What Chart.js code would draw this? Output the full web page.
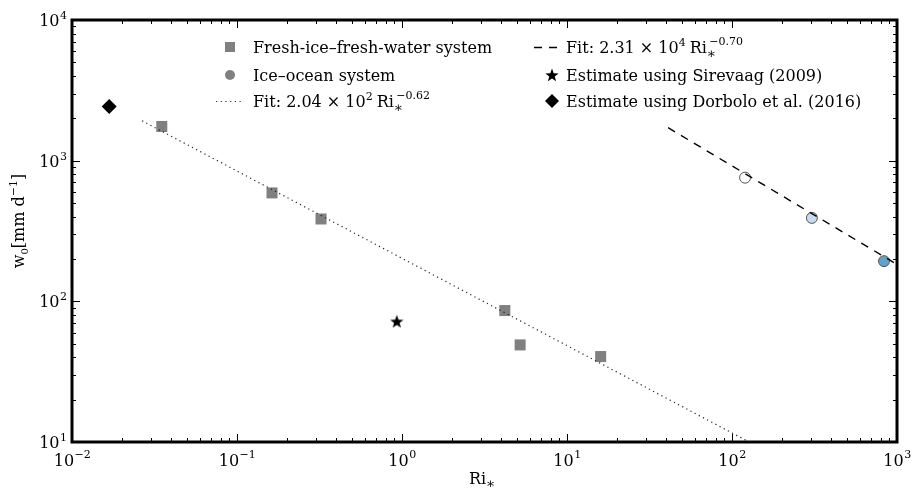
<!DOCTYPE html>
<html>
<head>
<meta charset="utf-8">
<script src="https://cdn.jsdelivr.net/npm/chart.js@4"></script>
<style>
  html, body { margin: 0; padding: 0; background: #fff; }
  #wrap { width: 915px; height: 492px; }
</style>
</head>
<body>
<div id="wrap"><canvas id="chart" width="915" height="492"></canvas></div>
<script>
// data
const freshRi = [0.035, 0.163, 0.323, 4.2, 5.2, 16];
const freshW = [1750, 590, 385, 86, 49, 40.5];

const oceanRi = [120, 305, 834];
const oceanW = [757, 392, 193];
const oceanColors = ["#ffffff", "#c6dbef", "#5fa3cc"];

const sirevaagRi = [0.93];
const sirevaagW = [72];

const dorboloRi = [0.0168];
const dorboloW = [2430];

// fit lines (end points)
const fitFreshRi = [0.0266, 125];
const fitFreshW = [1920, 10.1];
const fitOceanRi = [41, 1000];
const fitOceanW = [1715, 183];

const xMajor = [0.01, 0.1, 1, 10, 100, 1000];
const xExp = ["\u22122", "\u22121", "0", "1", "2", "3"];
const yMajor = [10, 100, 1000, 10000];
const yExp = ["1", "2", "3", "4"];

const serif = "'DejaVu Serif', 'Liberation Serif', serif";
const big = 16, small = 11;
const pts = (xs, ys) => xs.map((x, i) => ({ x: x, y: ys[i] }));

// filled star marker
const starImg = document.createElement("canvas");
starImg.width = 14; starImg.height = 14;
(function () {
  const c = starImg.getContext("2d");
  c.fillStyle = "#000";
  c.beginPath();
  for (let i = 0; i < 10; i++) {
    const r = i % 2 == 0 ? 7 : 2.9;
    const a = -Math.PI / 2 + i * Math.PI / 5;
    const px = 7 + r * Math.cos(a), py = 7.6 + r * Math.sin(a);
    i == 0 ? c.moveTo(px, py) : c.lineTo(px, py);
  }
  c.closePath();
  c.fill();
})();

function minorVals(lo, hi) {
  let out = [];
  for (let d = lo; d < hi; d *= 10) {
    for (let k = 2; k <= 9; k++) out.push(d * k);
  }
  return out;
}

const framePlugin = {
  id: "frame",
  afterDatasetsDraw(chart) {
    const ctx = chart.ctx;
    const a = chart.chartArea;
    const xs = chart.scales.x, ys = chart.scales.y;
    ctx.save();
    ctx.strokeStyle = "#000";
    // ticks on all four sides, pointing inward
    ctx.lineWidth = 1;
    const drawX = (vals, len) => {
      vals.forEach((v) => {
        const px = Math.round(xs.getPixelForValue(v)) + 0.5;
        ctx.beginPath();
        ctx.moveTo(px, a.bottom); ctx.lineTo(px, a.bottom - len);
        ctx.moveTo(px, a.top); ctx.lineTo(px, a.top + len);
        ctx.stroke();
      });
    };
    const drawY = (vals, len) => {
      vals.forEach((v) => {
        const py = Math.round(ys.getPixelForValue(v)) + 0.5;
        ctx.beginPath();
        ctx.moveTo(a.left, py); ctx.lineTo(a.left + len, py);
        ctx.moveTo(a.right, py); ctx.lineTo(a.right - len, py);
        ctx.stroke();
      });
    };
    drawX(xMajor, 8); drawX(minorVals(0.01, 1000), 4);
    drawY(yMajor, 8); drawY(minorVals(10, 10000), 4);
    ctx.lineWidth = 3;
    ctx.strokeRect(a.left, a.top, a.right - a.left, a.bottom - a.top);

    // tick labels
    ctx.fillStyle = "#000";
    ctx.textBaseline = "alphabetic";
    xMajor.forEach((v, i) => {
      const px = xs.getPixelForValue(v);
      ctx.font = big + "px " + serif;
      const w1 = ctx.measureText("10").width;
      ctx.font = small + "px " + serif;
      const w2 = ctx.measureText(xExp[i]).width;
      const x0 = px - (w1 + w2) / 2;
      ctx.textAlign = "left";
      ctx.font = big + "px " + serif;
      ctx.fillText("10", x0, a.bottom + 24);
      ctx.font = small + "px " + serif;
      ctx.fillText(xExp[i], x0 + w1 + 0.5, a.bottom + 16);
    });
    yMajor.forEach((v, i) => {
      const py = ys.getPixelForValue(v);
      ctx.font = small + "px " + serif;
      const w2 = ctx.measureText(yExp[i]).width;
      ctx.textAlign = "right";
      ctx.fillText(yExp[i], a.left - 5, py - 1);
      ctx.font = big + "px " + serif;
      ctx.fillText("10", a.left - 5.5 - w2, py + 6);
    });

    // axis titles
    ctx.textAlign = "left";
    ctx.font = big + "px " + serif;
    const wRi = ctx.measureText("Ri").width;
    const xc = (a.left + a.right) / 2 - 4;
    ctx.fillText("Ri", xc - wRi / 2 - 3, a.bottom + 42);
    ctx.font = "14px " + serif;
    ctx.fillText("\u2217", xc + wRi / 2 - 3, a.bottom + 46);

    ctx.translate(24, (a.top + a.bottom) / 2 - 10);
    ctx.rotate(-Math.PI / 2);
    ctx.textAlign = "left";
    const parts = [["w", big, 0], ["0", small - 1, 4], ["[mm d", big, 0], ["\u22121", small, -7], ["]", big, 0]];
    let total = 0;
    parts.forEach((p) => { ctx.font = p[1] + "px " + serif; total += ctx.measureText(p[0]).width; });
    let cx = -total / 2;
    parts.forEach((p) => {
      ctx.font = p[1] + "px " + serif;
      ctx.fillText(p[0], cx, p[2]);
      cx += ctx.measureText(p[0]).width;
    });
    ctx.restore();
  },
};

const legendPlugin = {
  id: "customLegend",
  afterDraw(chart) {
    const ctx = chart.ctx;
    ctx.save();
    ctx.fillStyle = "#000";
    ctx.textAlign = "left";
    ctx.textBaseline = "alphabetic";
    const rows = [47, 75, 101];
    const lx = 253, rx = 566;

    // left column markers
    ctx.fillStyle = "#808080";
    ctx.fillRect(225, rows[0] - 5, 10, 10);
    ctx.beginPath(); ctx.arc(230, rows[1], 5, 0, 2 * Math.PI); ctx.fill();
    ctx.strokeStyle = "#333";
    ctx.lineWidth = 1.2;
    ctx.setLineDash([1.2, 3.5]);
    ctx.beginPath(); ctx.moveTo(216, rows[2] + 0.5); ctx.lineTo(244, rows[2] + 0.5); ctx.stroke();

    // right column markers
    ctx.strokeStyle = "#000";
    ctx.lineWidth = 1.4;
    ctx.setLineDash([8, 7]);
    ctx.beginPath(); ctx.moveTo(534, rows[0] + 0.5); ctx.lineTo(560, rows[0] + 0.5); ctx.stroke();
    ctx.setLineDash([]);
    ctx.drawImage(starImg, 552 - 7, rows[1] - 7);
    ctx.fillStyle = "#000";
    ctx.beginPath();
    ctx.moveTo(552, rows[2] - 7); ctx.lineTo(559, rows[2]); ctx.lineTo(552, rows[2] + 7); ctx.lineTo(545, rows[2]);
    ctx.closePath(); ctx.fill();

    const text = (x, y, segs) => {
      let cx = x;
      segs.forEach((s) => {
        ctx.font = s[1] + "px " + serif;
        ctx.fillText(s[0], cx, y + s[2]);
        cx += ctx.measureText(s[0]).width + (s[3] || 0);
      });
    };
    ctx.fillStyle = "#000";
    text(lx, rows[0] + 6, [["Fresh-ice\u2013fresh-water system", big, 0]]);
    text(lx, rows[1] + 6, [["Ice\u2013ocean system", big, 0]]);
    text(lx, rows[2] + 6, [["Fit: 2.04 \u00d7 10", big, 0], ["2", small, -7, 4], ["Ri", big, 0], ["\u2217", 14, 5, -7], ["\u22120.62", small, -8]]);
    text(rx, rows[0] + 6, [["Fit: 2.31 \u00d7 10", big, 0], ["4", small, -7, 4], ["Ri", big, 0], ["\u2217", 14, 5, -7], ["\u22120.70", small, -8]]);
    text(rx, rows[1] + 6, [["Estimate using Sirevaag (2009)", big, 0]]);
    text(rx, rows[2] + 6, [["Estimate using Dorbolo et al. (2016)", big, 0]]);
    ctx.restore();
  },
};

new Chart(document.getElementById("chart"), {
  type: "scatter",
  data: {
    datasets: [
      {
        label: "Fit fresh",
        data: pts(fitFreshRi, fitFreshW),
        showLine: true,
        borderColor: "#222",
        borderWidth: 1.2,
        borderDash: [1.2, 3.5],
        pointRadius: 0,
        order: 0,
      },
      {
        label: "Fit ocean",
        data: pts(fitOceanRi, fitOceanW),
        showLine: true,
        borderColor: "#000",
        borderWidth: 1.4,
        borderDash: [8, 7],
        pointRadius: 0,
        order: 0,
      },
      {
        label: "Fresh-ice–fresh-water system",
        data: pts(freshRi, freshW),
        pointStyle: "rect",
        pointRadius: 7.8,
        backgroundColor: "#808080",
        borderWidth: 0,
        order: 1,
      },
      {
        label: "Ice–ocean system",
        data: pts(oceanRi, oceanW),
        pointStyle: "circle",
        pointRadius: 5.5,
        backgroundColor: oceanColors,
        borderColor: "#555",
        borderWidth: 1,
        order: 1,
      },
      {
        label: "Estimate using Sirevaag (2009)",
        data: pts(sirevaagRi, sirevaagW),
        pointStyle: starImg,
        order: 1,
      },
      {
        label: "Estimate using Dorbolo et al. (2016)",
        data: pts(dorboloRi, dorboloW),
        pointStyle: "rectRot",
        pointRadius: 7.5,
        backgroundColor: "#000",
        borderWidth: 0,
        order: 1,
      },
    ],
  },
  options: {
    responsive: false,
    animation: false,
    layout: { padding: { left: 72, right: 18, top: 20, bottom: 50 } },
    scales: {
      x: { type: "logarithmic", min: 0.01, max: 1000, display: false },
      y: { type: "logarithmic", min: 10, max: 10000, display: false },
    },
    plugins: {
      legend: { display: false },
      tooltip: { enabled: false },
    },
  },
  plugins: [framePlugin, legendPlugin],
});
</script>
</body>
</html>
